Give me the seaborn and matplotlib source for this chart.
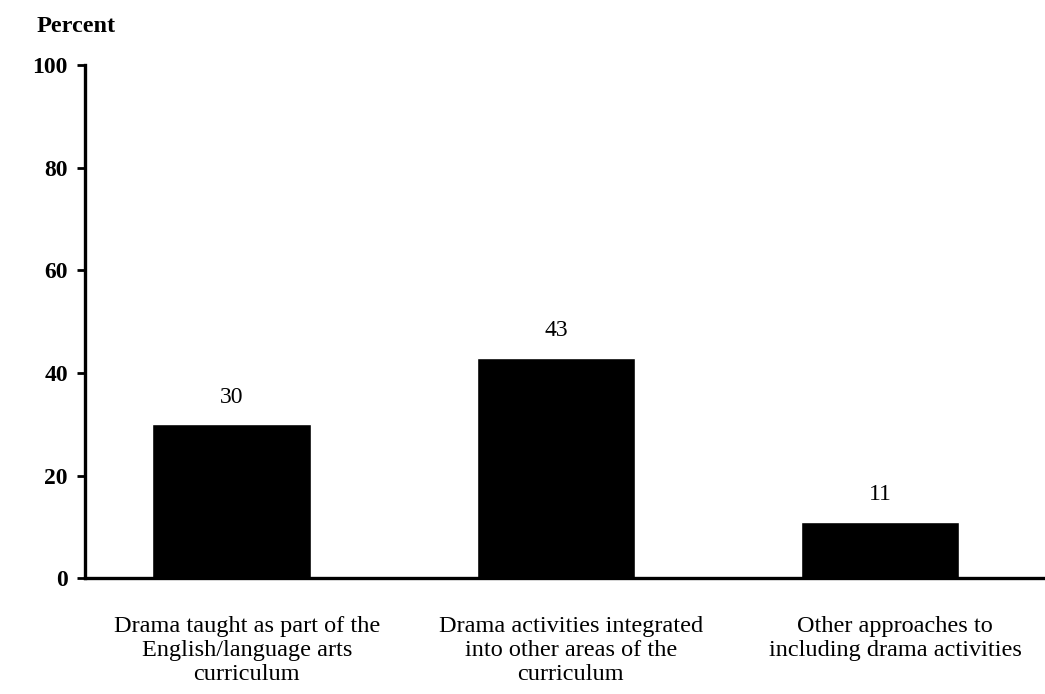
import matplotlib
matplotlib.use("Agg")
import matplotlib.pyplot as plt
import matplotlib.transforms as mtransforms
import seaborn as sns
import pandas as pd

# Daten
categories = [
    "Drama taught as part of the\nEnglish/language arts\ncurriculum",
    "Drama activities integrated\ninto other areas of the\ncurriculum",
    "Other approaches to\nincluding drama activities",
]
percent = [30, 43, 11]
value_labels = ["30", "43", "11"]
y_ticks = [0, 20, 40, 60, 80, 100]

df = pd.DataFrame({"category": categories, "percent": percent})

sns.set_style("white")
plt.rcParams["font.family"] = ["Liberation Serif", "DejaVu Serif"]
plt.rcParams["text.color"] = "black"
plt.rcParams["xtick.color"] = "black"
plt.rcParams["ytick.color"] = "black"

fig = plt.figure(figsize=(10.45, 6.94), dpi=100)
ax = fig.add_axes([0.081, 0.167, 0.919, 0.739])

sns.barplot(data=df, x="category", y="percent", color="black",
            width=0.49, saturation=1, ax=ax)

for i, (v, lab) in enumerate(zip(percent, value_labels)):
    ax.text(i, v + 3.2, lab, ha="center", va="bottom", fontsize=17)

ax.set_xlim(-0.454, 2.509)
ax.set_ylim(0, 100)
ax.set_yticks(y_ticks)
ax.set_yticklabels([str(t) for t in y_ticks], fontsize=17, fontweight="bold")
ax.set_xticks(range(len(categories)))
ax.set_xticklabels(categories, fontsize=17.5, linespacing=1.2)
ax.tick_params(axis="x", length=0, pad=27)
ax.tick_params(axis="y", length=6, width=2, direction="out", pad=6, left=True)
ax.set_xlabel("")
ax.set_ylabel("")

# labels sit a little right of the bar centres in the original
offset = mtransforms.ScaledTranslation(0.15, 0, fig.dpi_scale_trans)
for t in ax.get_xticklabels():
    t.set_transform(t.get_transform() + offset)

for s in ["top", "right"]:
    ax.spines[s].set_visible(False)
for s in ["left", "bottom"]:
    ax.spines[s].set_linewidth(2.4)
    ax.spines[s].set_color("black")

fig.text(0.035, 0.962, "Percent", fontsize=17.5, fontweight="bold",
         ha="left", va="center")

fig.savefig("out.png", dpi=100)
